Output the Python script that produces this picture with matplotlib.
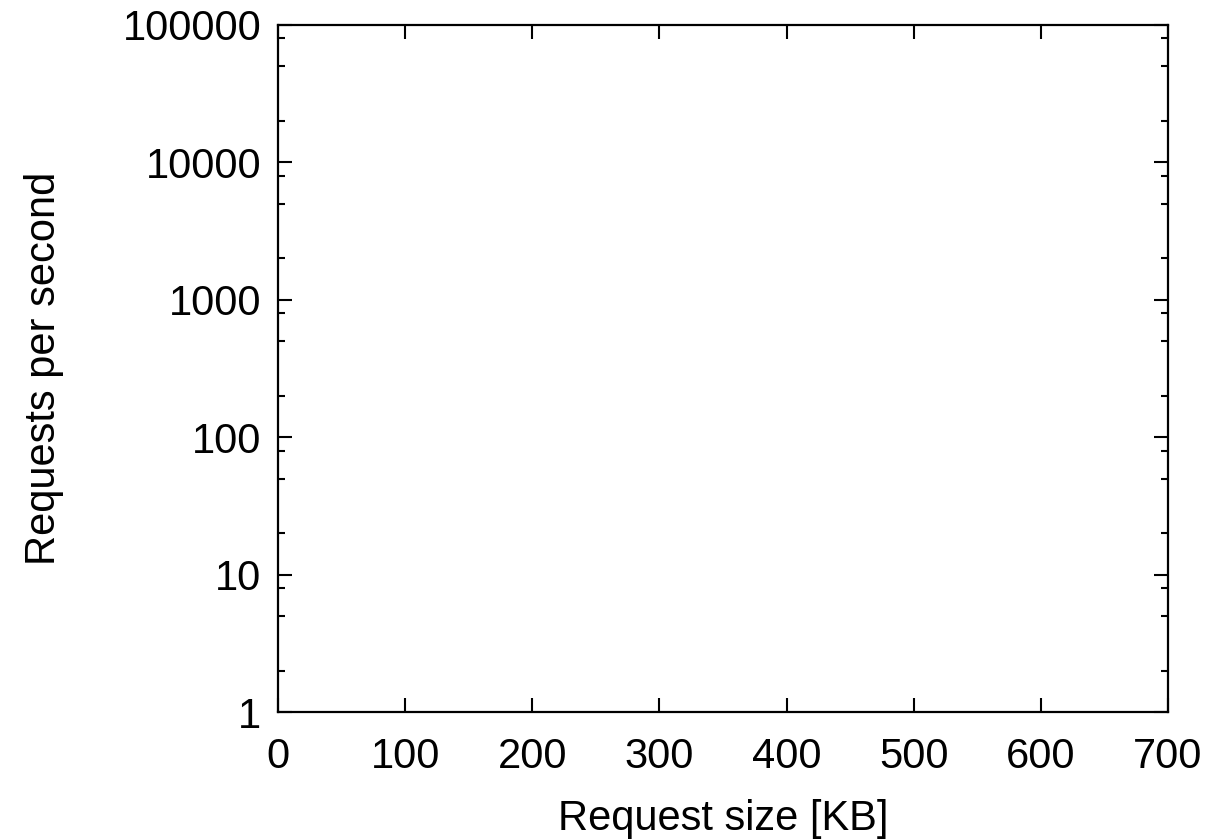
import numpy as np
from matplotlib import pyplot as plt
import matplotlib.ticker as mticker

plt.rcParams['font.family'] = ['Liberation Sans', 'DejaVu Sans']

# axis settings (no data series are drawn)
x_range = [0, 700]
x_ticks = [0, 100, 200, 300, 400, 500, 600, 700]
y_range = [1, 100000]
y_ticks = [1, 10, 100, 1000, 10000, 100000]
y_minor_subs = [2, 5, 8]

fig = plt.figure(figsize=(12.15, 8.4), dpi=100)
ax = fig.add_axes([278 / 1215, 1 - 712 / 840, (1168 - 278) / 1215, (712 - 25) / 840])

ax.set_yscale('log')
ax.set_xlim(x_range)
ax.set_ylim(y_range)
ax.set_xticks(x_ticks)
ax.set_xticklabels([str(v) for v in x_ticks])
ax.yaxis.set_major_locator(mticker.FixedLocator(y_ticks))
ax.yaxis.set_major_formatter(mticker.FixedFormatter([str(v) for v in y_ticks]))
ax.yaxis.set_minor_locator(mticker.LogLocator(base=10, subs=y_minor_subs))
ax.yaxis.set_minor_formatter(mticker.NullFormatter())

ax.tick_params(which='both', direction='in', top=True, right=True, labelsize=30, color='black')
ax.tick_params(which='major', length=10, width=1.5)
ax.tick_params(which='minor', length=5, width=1.5)
ax.tick_params(axis='x', pad=18)
ax.tick_params(axis='y', pad=12)
for sp in ax.spines.values():
    sp.set_linewidth(1.6)

ax.set_xlabel('Request size [KB]', fontsize=30, labelpad=16)
ax.set_ylabel('Requests per second', fontsize=30, labelpad=42)

plt.savefig('out.png', dpi=100)
